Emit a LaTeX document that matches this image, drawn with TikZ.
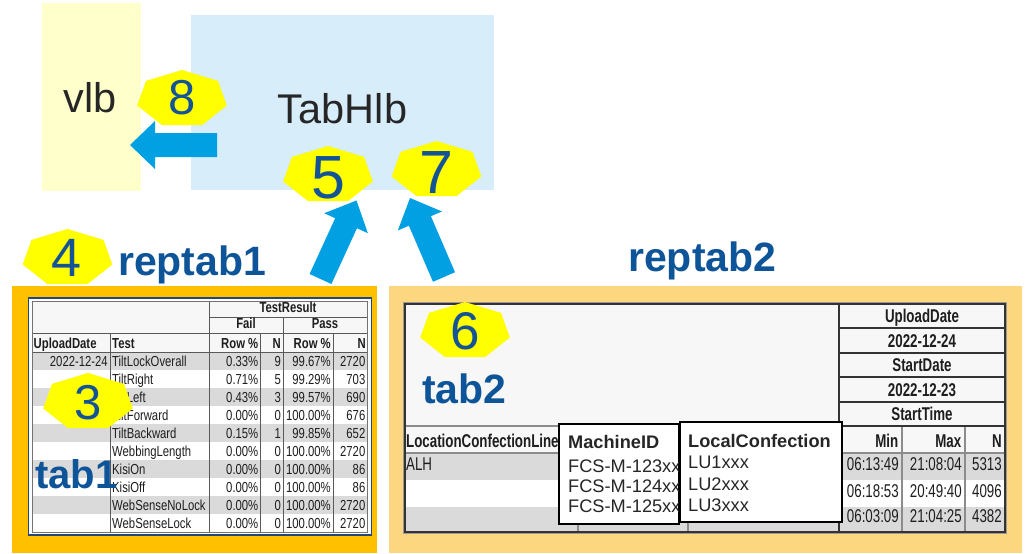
\documentclass[tikz,border=0pt]{standalone}
\usepackage{fontspec}
\setmainfont{Liberation Sans}
\newfontfamily\tabfontA[FakeStretch=0.78]{Liberation Sans}
\newfontfamily\tabfontB[FakeStretch=0.72]{Liberation Sans}
\usetikzlibrary{calc}

\definecolor{vlbfill}{RGB}{255,255,204}
\definecolor{hlbfill}{RGB}{215,237,250}
\definecolor{arrowblue}{RGB}{0,160,227}
\definecolor{badgeyellow}{RGB}{255,255,0}
\definecolor{numblue}{RGB}{20,84,150}
\definecolor{lblblue}{RGB}{14,84,153}
\definecolor{frameA}{RGB}{255,192,0}
\definecolor{frameB}{RGB}{253,214,128}
\definecolor{rowgray}{RGB}{218,218,218}
\definecolor{headbg}{RGB}{247,247,247}
\definecolor{tabtext}{RGB}{30,30,30}
\definecolor{boxtext}{RGB}{38,38,38}
\definecolor{tabborder}{RGB}{31,73,125}

\newcommand\tabA{\tabfontA\fontsize{14.5}{17}\selectfont}
\newcommand\tabB{\tabfontB\fontsize{18.5}{22}\selectfont}
\newcommand\pxsize[1]{\fontsize{#1}{#1}\selectfont}

% wide arrow from tail (#1) to tip (#2)
\newcommand\blockarrow[2]{%
  \path ($(#2)!25pt!(#1)$) coordinate (hb);
  \fill[arrowblue] ($(#1)!12pt!90:(#2)$) -- ($(hb)!12pt!90:(#2)$)
    -- ($(hb)!24pt!90:(#2)$) -- (#2) -- ($(hb)!24pt!-90:(#2)$)
    -- ($(hb)!12pt!-90:(#2)$) -- ($(#1)!12pt!-90:(#2)$) -- cycle;}

\tikzset{
  hept/.pic={\fill[badgeyellow] (0,-29) -- (-36,-18.1) -- (-44.8,6.5)
      -- (-20,26.1) -- (20,26.1) -- (44.8,6.5) -- (36,-18.1) -- cycle;},
  num/.style={text=numblue, inner sep=0pt},
  bigtxt/.style={anchor=base, inner sep=0pt, text=boxtext, font=\pxsize{41.5}},
  lbl/.style={anchor=base west, inner sep=0pt, text=lblblue, font=\bfseries\pxsize{41}},
  cAL/.style={anchor=base west, inner sep=0pt, text=tabtext, font=\tabA},
  cAR/.style={anchor=base east, inner sep=0pt, text=tabtext, font=\tabA},
  cAC/.style={anchor=base, inner sep=0pt, text=tabtext, font=\tabA\bfseries},
  cBL/.style={anchor=base west, inner sep=0pt, text=tabtext, font=\tabB},
  cBR/.style={anchor=base east, inner sep=0pt, text=tabtext, font=\tabB},
  cBC/.style={anchor=base, inner sep=0pt, text=tabtext, font=\tabB\bfseries},
  gridA/.style={draw=black!65, line width=0.8pt},
  gridB/.style={draw=black!45, line width=1.2pt},
  gridBdark/.style={draw=black!80, line width=1.2pt},
  popup/.style={fill=white, draw=black, line width=1.8pt},
  poptxt/.style={anchor=base west, inner sep=0pt, text=black!85, font=\pxsize{18.2}},
}

\begin{document}
\begin{tikzpicture}[x=1pt,y=-1pt]
\useasboundingbox (0,0) rectangle (1026,554);

% ---------- lookup boxes ----------
\node[fill=vlbfill, minimum width=99pt, minimum height=188pt, anchor=north west, inner sep=0pt] (vlbbox) at (42,3) {};
\node[fill=hlbfill, minimum width=303pt, minimum height=175pt, anchor=north west, inner sep=0pt] (hlbbox) at (191,15) {};
\node[bigtxt] (vlb) at (90,112) {vlb};
\node[bigtxt] (tabhlb) at (342.5,123) {TabHlb};

% ---------- report frames ----------
\fill[frameA] (12,286) rectangle (377,553);
\fill[frameB] (389,286) rectangle (1022,553);
\node[lbl] (reptab1) at (118,275) {reptab1};
\node[lbl] (reptab2) at (628,271) {reptab2};

% ---------- tab1 ----------
\fill[white] (28.5,298) rectangle (371.5,535);
\fill[headbg] (32,301) rectangle (367,352);
\foreach \k in {0,2,4,6,8}
  \fill[rowgray] (32,{352+18*\k}) rectangle (367,{370+18*\k});
\draw[gridA] (209,317) -- (367,317);
\draw[gridA] (32,333) -- (367,333);
\draw[gridA] (32,352) -- (367,352);
\draw[gridA] (110,333) -- (110,532);
\draw[gridA] (209,301) -- (209,532);
\draw[gridA] (260,333) -- (260,532);
\draw[gridA] (283,317) -- (283,532);
\draw[gridA] (333,333) -- (333,532);
\draw[draw=black!55, line width=0.8pt] (32,301) rectangle (367,532);
\draw[draw=tabborder, line width=1.5pt] (28.5,298) rectangle (371.5,535);

\node[cAC] (hTR) at (288,312) {TestResult};
\node[cAC] (hFail) at (246,328) {Fail};
\node[cAC] (hPass) at (325,328) {Pass};
\node[cAL, font=\tabA\bfseries] (hUD) at (33.5,348) {UploadDate};
\node[cAL, font=\tabA\bfseries] (hTest) at (112,348) {Test};
\node[cAR, font=\tabA\bfseries] (hFR) at (258.5,348) {Row \%};
\node[cAR, font=\tabA\bfseries] (hFN) at (281,348) {N};
\node[cAR, font=\tabA\bfseries] (hPR) at (331,348) {Row \%};
\node[cAR, font=\tabA\bfseries] (hPN) at (366,348) {N};
\node[cAR] (ud0) at (108,366.7) {2022-12-24};
\foreach \nm/\fr/\fn/\pr/\pn [count=\i from 0] in {
    TiltLockOverall/0.33/9/99.67/2720, TiltRight/0.71/5/99.29/703,
    TiltLeft/0.43/3/99.57/690, TiltForward/0.00/0/100.00/676,
    TiltBackward/0.15/1/99.85/652, WebbingLength/0.00/0/100.00/2720,
    KisiOn/0.00/0/100.00/86, KisiOff/0.00/0/100.00/86,
    WebSenseNoLock/0.00/0/100.00/2720, WebSenseLock/0.00/0/100.00/2720} {
  \node[cAL] (test\i) at (112,{366.7+18*\i}) {\nm};
  \node[cAR] (fr\i) at (258.5,{366.7+18*\i}) {\fr\%};
  \node[cAR] (fn\i) at (281,{366.7+18*\i}) {\fn};
  \node[cAR] (pr\i) at (331,{366.7+18*\i}) {\pr\%};
  \node[cAR] (pn\i) at (365.5,{366.7+18*\i}) {\pn};
}

% ---------- tab2 ----------
\fill[headbg] (403,302) rectangle (1006,533);
\fill[rowgray] (405,453) rectangle (1005,480);
\fill[white] (405,480) rectangle (1005,507);
\fill[rowgray] (405,507) rectangle (1005,532);
\draw[gridB] (405,426) -- (839,426);
\draw[gridB] (405,453) -- (1005,453);
\foreach \cx in {578,688,902,965}
  \draw[gridB] (\cx,426) -- (\cx,532);
\draw[gridBdark] (839,303) -- (839,532);
\foreach \ry in {328,353,377,402,426}
  \draw[gridBdark] (839,\ry) -- (1005,\ry);
\draw[draw=black!40, line width=0.8pt] (403,302) rectangle (1006.5,533.5);
\draw[gridBdark] (405,304) rectangle (1005,532);

\node[cBC] (sUD) at (922,322) {UploadDate};
\node[cBC] (sUDv) at (922,347) {2022-12-24};
\node[cBC] (sSD) at (922,371.5) {StartDate};
\node[cBC] (sSDv) at (922,396) {2022-12-23};
\node[cBC] (sST) at (922,420.5) {StartTime};
\node[cBL, font=\tabB\bfseries] (hLoc) at (406,447) {LocationConfectionLine};
\node[cBR, font=\tabB\bfseries] (hMin) at (898.5,447) {Min};
\node[cBR, font=\tabB\bfseries] (hMax) at (961.5,447) {Max};
\node[cBR, font=\tabB\bfseries] (hN) at (1002,447) {N};
\node[cBL] (loc0) at (406,470) {ALH};
\foreach \mn/\mx/\nn/\by [count=\i from 0] in {
    06:13:49/21:08:04/5313/470, 06:18:53/20:49:40/4096/497,
    06:03:09/21:04:25/4382/522} {
  \node[cBR] (min\i) at (899,\by) {\mn};
  \node[cBR] (max\i) at (962,\by) {\mx};
  \node[cBR] (n\i) at (1002,\by) {\nn};
}

% hover popups over the hidden columns
\draw[popup] (559,424) rectangle (679,524);
\node[poptxt, font=\bfseries\pxsize{18.2}] (pmid) at (568,448) {MachineID};
\node[poptxt] (pm1) at (568,472) {FCS-M-123xx};
\node[poptxt] (pm2) at (568,492) {FCS-M-124xx};
\node[poptxt] (pm3) at (568,512) {FCS-M-125xx};
\draw[popup] (680,422) rectangle (842,522);
\node[poptxt, font=\bfseries\pxsize{18.2}] (plc) at (688,447) {LocalConfection};
\node[poptxt] (pl1) at (688,468) {LU1xxx};
\node[poptxt] (pl2) at (688,490) {LU2xxx};
\node[poptxt] (pl3) at (688,511) {LU3xxx};

% ---------- table labels ----------
\node[lbl, font=\bfseries\pxsize{40}] (tab1) at (35,488) {tab1};
\node[lbl, font=\bfseries\pxsize{41}] (tab2) at (422,403) {tab2};

% ---------- step badges ----------
\pic at (182,99) {hept};
\node[num, font=\pxsize{49}] (b8) at (182,97.5) {8};
\pic at (328,175) {hept};
\node[num, font=\pxsize{61}] (b5) at (328,178) {5};
\pic at (436.5,170) {hept};
\node[num, font=\pxsize{61}] (b7) at (436.5,173) {7};
\pic at (67.5,258) {hept};
\node[num, font=\pxsize{54}] (b4) at (67,257.5) {4};
\pic at (88,402) {hept};
\node[num, font=\pxsize{49}] (b3) at (88,402.5) {3};
\pic at (465,331) {hept};
\node[num, font=\pxsize{53}] (b6) at (465,331) {6};

% ---------- flow arrows ----------
\coordinate (a8t) at (217,145);
\coordinate (a8p) at (130,145);
\blockarrow{a8t}{a8p}
\coordinate (a5t) at (320.5,279);
\coordinate (a5p) at (356.5,200.5);
\blockarrow{a5t}{a5p}
\coordinate (a7t) at (444,277);
\coordinate (a7p) at (410,198);
\blockarrow{a7t}{a7p}
\end{tikzpicture}
\end{document}
